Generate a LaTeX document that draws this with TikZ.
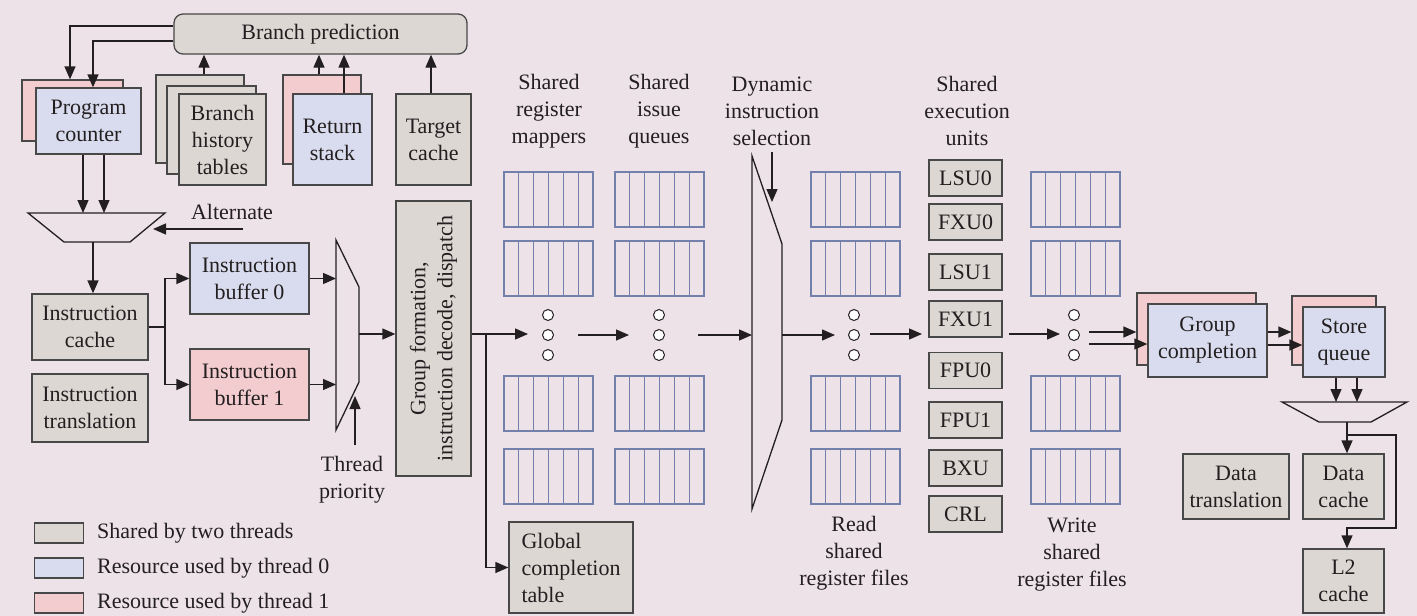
\documentclass[tikz,border=0pt]{standalone}
\usepackage{fontspec}
\setmainfont{Liberation Serif}
\usetikzlibrary{arrows.meta,calc}
\definecolor{bg}{RGB}{237,226,232}
\definecolor{shgray}{RGB}{221,215,212}
\definecolor{thzero}{RGB}{217,220,238}
\definecolor{thone}{RGB}{242,204,207}
\definecolor{rfblue}{RGB}{116,128,172}
\definecolor{edge}{RGB}{72,72,72}
\definecolor{ink}{RGB}{35,31,32}
\newcommand{\rfblock}[2]{%
  \draw[rf] (#1,#2) rectangle (#1+89,#2+55);
  \foreach \k in {1,...,5} {\draw[rf] (#1+\k*14.83,#2) -- (#1+\k*14.83,#2+55);}
}
\begin{document}
\begin{tikzpicture}[x=1pt,y=-1pt,
  font=\fontsize{22}{27}\selectfont,
  wh/.style 2 args={minimum width=#1pt,minimum height=#2pt},
  box/.style={draw=edge,line width=1.3pt,inner sep=0pt,align=center,text=ink},
  sh/.style={box,fill=shgray},
  tz/.style={box,fill=thzero},
  tone/.style={box,fill=thone},
  conn/.style={draw=ink,line width=1.3pt,-{Triangle[length=13pt,width=11pt]}},
  plain/.style={draw=ink,line width=1.3pt},
  mux/.style={draw=ink,line width=1.3pt,fill=bg,line join=miter},
  rf/.style={draw=rfblue,line width=1.1pt},
  lbl/.style={align=center,text=ink,inner sep=0pt},
  dot/.style={circle,draw=ink,fill=white,line width=1pt,minimum size=11pt,inner sep=0pt}
]
\useasboundingbox (0,0) rectangle (1417,616);
\fill[bg] (0,0) rectangle (1417,616);

% ---------- top: branch prediction ----------
\node[sh,wh={293}{40},rounded corners=9pt] (bp) at (320.5,34) {Branch prediction};

\node[tone,wh={101}{61}] (pcback) at (72.5,110.5) {};
\node[tz,wh={105}{66}] (pc) at (88.5,121) {Program\\counter};

\node[sh,wh={88}{88}] (bht1) at (200,119) {};
\node[sh,wh={89}{88}] (bht2) at (211.5,130) {};
\node[sh,wh={87}{91}] (bht) at (222.5,139.5) {Branch\\history\\tables};

\node[tone,wh={78}{89}] (rsback) at (322,119.5) {};
\node[tz,wh={79}{91}] (rs) at (332.5,139.5) {Return\\stack};

\node[sh,wh={75}{91}] (tc) at (433.5,139.5) {Target\\cache};

\draw[conn] (bp.west |- 0,26) -| (pcback.north -| 70,0);
\draw[conn] (bp.west |- 0,41) -| (pc.north -| 93,0);
\draw[conn] (bht1.north -| 204,0) -- (bp.south -| 204,0);
\draw[conn] (rsback.north -| 319,0) -- (bp.south -| 319,0);
\draw[conn] (rs.north -| 344,0) -- (bp.south -| 344,0);
\draw[conn] (tc.north -| 431,0) -- (bp.south -| 431,0);

% ---------- fetch mux ----------
\coordinate (m1tl) at (28,213);
\coordinate (m1tr) at (165,213);
\coordinate (m1br) at (130,242);
\coordinate (m1bl) at (64,242);
\draw[mux] (m1tl) -- (m1tr) -- (m1br) -- (m1bl) -- cycle;
\draw[conn] (pc.south -| 83,0) -- (m1tl -| 83,0);
\draw[conn] (pc.south -| 104,0) -- (m1tl -| 104,0);
\node[lbl] (alt) at (232,212) {Alternate};
\coordinate (altin) at (243,229);
\coordinate (m1r) at (153,229);
\draw[conn] (altin) -- (m1r);

% ---------- instruction cache & buffers ----------
\node[sh,wh={116}{66}] (ic) at (90,327) {Instruction\\cache};
\node[sh,wh={116}{68}] (it) at (90,408) {Instruction\\translation};
\coordinate (m1out) at (93,242);
\draw[conn] (m1out) -- (ic.north -| m1out);

\node[tz,wh={119}{71}] (ib0) at (249.5,278.5) {Instruction\\buffer 0};
\node[tone,wh={119}{71}] (ib1) at (249.5,384.5) {Instruction\\buffer 1};
\coordinate (split1) at (165,327);
\draw[plain] (ic.east) -- (split1);
\draw[conn] (split1) |- (ib0.west);
\draw[conn] (split1) |- (ib1.west);

% thread mux
\coordinate (m2tl) at (336,240);
\coordinate (m2tr) at (359,287);
\coordinate (m2br) at (359,382);
\coordinate (m2bl) at (336,430);
\draw[mux] (m2tl) -- (m2tr) -- (m2br) -- (m2bl) -- cycle;
\draw[conn] (ib0.east) -- (ib0.east -| m2tl);
\draw[conn] (ib1.east) -- (ib1.east -| m2tl);

\node[lbl] (tp) at (352,480) {Thread\\priority};
\coordinate (tpin) at (355,445);
\coordinate (tptip) at (355,396);
\draw[conn] (tpin) -- (tptip);

% ---------- group formation ----------
\node[sh,wh={75}{275}] (gf) at (433.5,338.5) {};
\node[lbl,rotate=90] at (gf.center) {Group formation,\\instruction decode, dispatch};
\coordinate (m2out) at (359,334);
\draw[conn] (m2out) -- (m2out -| gf.west);

\node[sh,wh={124}{91},align=left] (gct) at (571,567.5) {Global\\completion\\table};
\coordinate (f0) at (528,334);
\draw[conn] (gf.east |- f0) -- (f0);
\coordinate (gsplit) at (486,334);
\draw[conn] (gsplit) |- (gct.west);

% ---------- register mappers / issue queues ----------
\node[lbl] (lmap) at (549,111) {Shared\\register\\mappers};
\node[lbl] (liq) at (659,111) {Shared\\issue\\queues};
\node[lbl] (ldyn) at (772,111) {Dynamic\\instruction\\selection};
\node[lbl] (lexe) at (967,111) {Shared\\execution\\units};
\node[lbl] (lrd) at (854,553) {Read\\shared\\register files};
\node[lbl] (lwr) at (1072,555) {Write\\shared\\register files};

\foreach \cx in {504,615,811,1031} {
  \foreach \cy in {172,241,376,449} {
    \rfblock{\cx}{\cy}
  }
}

\foreach \dx/\nm in {548/a,659/b,854/c,1074/d} {
  \node[dot] (dot\nm1) at (\dx,315) {};
  \node[dot] (dot\nm2) at (\dx,335) {};
  \node[dot] (dot\nm3) at (\dx,355) {};
}

% dynamic selection mux
\coordinate (dtl) at (752,156);
\coordinate (dtr) at (782,244);
\coordinate (dbr) at (782,420);
\coordinate (dbl) at (752,509);
\draw[mux] (dtl) -- (dtr) -- (dbr) -- (dbl) -- cycle;
\coordinate (dselin) at (772,152);
\coordinate (dseltip) at (772,202);
\draw[conn] (dselin) -- (dseltip);

\draw[conn] (dota2 -| 578,0) -- (dota2 -| 629,0);
\draw[conn] (dotb2 -| 698,0) -- (dotb2 -| dtl);
\draw[conn] (dotc2 -| dtr) -- (dotc2 -| 835,0);

% ---------- execution units ----------
\node[sh,wh={73}{36}] (lsu0) at (965.5,178) {LSU0};
\node[sh,wh={73}{36}] (fxu0) at (965.5,222) {FXU0};
\node[sh,wh={73}{36}] (lsu1) at (965.5,272) {LSU1};
\node[sh,wh={73}{36}] (fxu1) at (965.5,319) {FXU1};
\node[sh,wh={73}{36}] (fpu0) at (965.5,370.5) {FPU0};
\node[sh,wh={73}{36}] (fpu1) at (965.5,420) {FPU1};
\node[sh,wh={73}{36}] (bxu) at (965.5,468) {BXU};
\node[sh,wh={73}{36}] (crl) at (965.5,514) {CRL};

\draw[conn] (870,334) -- (922,334);
\draw[conn] (1009,334) -- (1060,334);

% ---------- completion & store ----------
\node[tone,wh={119}{72}] (gcback) at (1196.5,329) {};
\node[tz,wh={119}{73}] (gc) at (1207.5,340.5) {Group\\completion};
\node[tone,wh={84}{69}] (sqback) at (1334,330.5) {};
\node[tz,wh={82}{70}] (sq) at (1344,342) {Store\\queue};

\draw[conn] (1089,332) -- (gcback.west |- 0,332);
\draw[conn] (1089,344) -- (gc.west |- 0,344);
\draw[conn] (gc.east |- 0,332) -- (sqback.west |- 0,332);
\draw[conn] (gc.east |- 0,345) -- (sq.west |- 0,345);

\coordinate (m3tl) at (1282,402);
\coordinate (m3tr) at (1407,402);
\coordinate (m3br) at (1371,422);
\coordinate (m3bl) at (1319,422);
\draw[mux] (m3tl) -- (m3tr) -- (m3br) -- (m3bl) -- cycle;
\draw[conn] (sq.south -| 1336,0) -- (m3tl -| 1336,0);
\draw[conn] (sq.south -| 1357,0) -- (m3tl -| 1357,0);

\node[sh,wh={106}{65}] (dt) at (1236,486.5) {Data\\translation};
\node[sh,wh={81}{65}] (dc) at (1343.5,486.5) {Data\\cache};
\node[sh,wh={81}{64}] (l2) at (1343.5,581) {L2\\cache};

\coordinate (m3out) at (1347,422);
\draw[conn] (m3out) -- (dc.north -| m3out);
\coordinate (dsplit) at (1347,435);
\coordinate (dturn) at (1396,528);
\draw[conn] (dsplit) -| (dturn) -| (l2.north -| m3out);

% ---------- legend ----------
\node[sh,wh={49}{20}] (lg1) at (59,533) {};
\node[tz,wh={49}{20}] (lg2) at (59,568) {};
\node[tone,wh={49}{20}] (lg3) at (59,603) {};
\node[lbl,anchor=west] (lt1) at (97,533) {Shared by two threads};
\node[lbl,anchor=west] (lt2) at (97,568) {Resource used by thread 0};
\node[lbl,anchor=west] (lt3) at (97,603) {Resource used by thread 1};
\end{tikzpicture}
\end{document}
